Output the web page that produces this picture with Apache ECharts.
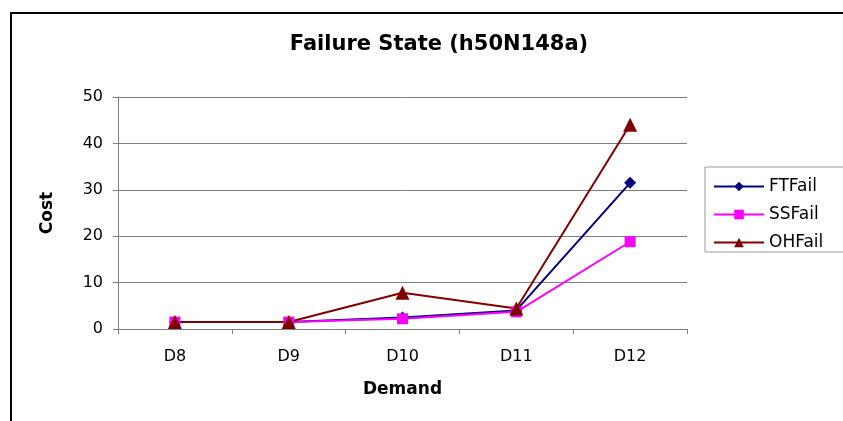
<!DOCTYPE html>
<html>
<head>
<meta charset="utf-8">
<script src="https://cdn.jsdelivr.net/npm/echarts@6/dist/echarts.min.js"></script>
<style>
    html, body { margin: 0; padding: 0; background: #fff; }
    #main { width: 843px; height: 421px; }
</style>
</head>
<body>
<div id="main"></div>
<script>
// data
var categories = ['D8', 'D9', 'D10', 'D11', 'D12'];
var ftFail = [1.5, 1.5, 2.5, 4.0, 31.5];
var ssFail = [1.5, 1.5, 2.2, 3.7, 18.8];
var ohFail = [1.5, 1.5, 7.8, 4.4, 44.0];
var yTicks = [0, 10, 20, 30, 40, 50];

var dom = document.getElementById('main');
var myChart = echarts.init(dom, null, {renderer: 'canvas'});
var font = '"DejaVu Sans", "Liberation Sans", Arial, sans-serif';

function lineSeries(name, data, color, symbol, size) {
    return {
        name: name,
        type: 'line',
        data: data,
        symbol: symbol,
        symbolSize: size,
        lineStyle: { color: color, width: 2 },
        itemStyle: { color: color },
        animation: false
    };
}

var option = {
    backgroundColor: '#fff',
    title: {
        text: 'Failure State (h50N148a)',
        left: 434,
        textAlign: 'center',
        top: 29,
        textStyle: { fontFamily: font, fontSize: 21, fontWeight: 'bold', color: '#000' }
    },
    legend: {
        orient: 'vertical',
        left: 705,
        top: 167,
        itemWidth: 50,
        itemHeight: 12,
        itemGap: 11,
        padding: [11, 40, 1, 8],
        borderColor: '#999',
        borderWidth: 1,
        textStyle: { fontFamily: font, fontSize: 17, color: '#000' },
        data: ['FTFail', 'SSFail', 'OHFail']
    },
    grid: {
        left: 118,
        top: 97,
        width: 569,
        height: 232
    },
    xAxis: {
        type: 'category',
        data: categories,
        boundaryGap: true,
        name: 'Demand',
        nameLocation: 'middle',
        nameGap: 52,
        nameTextStyle: { fontFamily: font, fontSize: 17, fontWeight: 'bold', color: '#000' },
        axisLine: { lineStyle: { color: '#808080', width: 1 } },
        axisTick: { show: true, alignWithLabel: false, length: 5, lineStyle: { color: '#808080' } },
        axisLabel: { fontFamily: font, fontSize: 16, color: '#000', margin: 20 },
        splitLine: { show: false }
    },
    yAxis: {
        type: 'value',
        min: yTicks[0],
        max: yTicks[yTicks.length - 1],
        interval: 10,
        name: 'Cost',
        nameLocation: 'middle',
        nameGap: 62,
        nameTextStyle: { fontFamily: font, fontSize: 17, fontWeight: 'bold', color: '#000' },
        axisLine: { show: true, lineStyle: { color: '#808080', width: 1 } },
        axisTick: { show: true, length: 5, lineStyle: { color: '#808080' } },
        axisLabel: { fontFamily: font, fontSize: 16, color: '#000', margin: 15 },
        splitLine: { show: true, lineStyle: { color: '#808080', width: 1 } }
    },
    graphic: [
        {
            type: 'rect',
            shape: { x: 11, y: 13, width: 850, height: 430 },
            style: { fill: 'none', stroke: '#000', lineWidth: 2 },
            silent: true
        }
    ],
    series: [
        lineSeries('FTFail', ftFail, '#000080', 'diamond', 12),
        lineSeries('SSFail', ssFail, '#ff00ff', 'rect', 11),
        lineSeries('OHFail', ohFail, '#800000', 'triangle', 14)
    ]
};

myChart.setOption(option);
window.onresize = function () {
    myChart.resize();
};
</script>
</body>
</html>
